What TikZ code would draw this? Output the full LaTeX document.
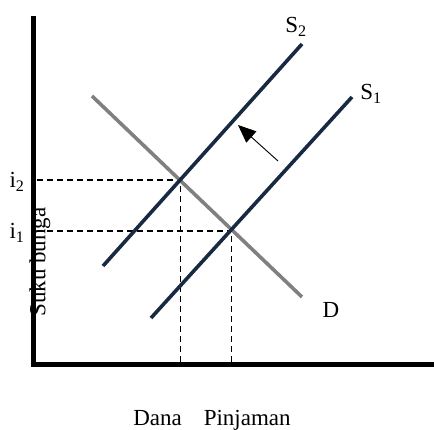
\documentclass[tikz,border=0pt]{standalone}
\usepackage{fontspec}
\setmainfont{Liberation Serif}
\usetikzlibrary{arrows.meta}
\definecolor{navy}{RGB}{24,42,66}
\definecolor{dgray}{RGB}{128,128,128}
\tikzset{
  axisline/.style={line width=5pt, black},
  supply/.style={line width=3.6pt, navy},
  demand/.style={line width=3.6pt, dgray},
  guide/.style={line width=1.6pt, dash pattern=on 6pt off 4pt, black},
  lbl/.style={font=\fontsize{23}{26}\selectfont, inner sep=0pt},
}
\begin{document}
\begin{tikzpicture}[x=1pt,y=-1pt]
\useasboundingbox (0,0) rectangle (434,430);
% axes
\coordinate (ytop) at (33.5,16);
\coordinate (origin) at (33.5,365);
\coordinate (xend) at (434,365);
\draw[axisline] (ytop) -- (origin) -- (xend);
% curves
\coordinate (s2a) at (103,266);
\coordinate (s2b) at (302,44);
\coordinate (s1a) at (151,318);
\coordinate (s1b) at (352,97);
\coordinate (da) at (92,96);
\coordinate (db) at (302,297);
\coordinate (e2) at (180.5,180);
\coordinate (e1) at (231.5,231);
\coordinate (y2) at (37,180);
\coordinate (y1) at (37,231);
\coordinate (x2) at (180.5,363);
\coordinate (x1) at (231.5,363);
\draw[guide] (y2) -- (e2) -- (x2);
\draw[guide] (y1) -- (e1) -- (x1);
\draw[demand] (da) -- (db);
\draw[supply] (s2a) -- (s2b);
\draw[supply] (s1a) -- (s1b);
% shift arrow
\coordinate (atail) at (278,161);
\coordinate (ahead) at (238,125);
\draw[line width=0.9pt, -{Triangle[length=18pt,width=15pt]}] (atail) -- (ahead);
% labels
\node[lbl] (ls2) at (296,27) {S\textsubscript{2}};
\node[lbl] (ls1) at (371,94) {S\textsubscript{1}};
\node[lbl] (ld) at (331,310) {D};
\node[lbl] (li2) at (17,182) {i\textsubscript{2}};
\node[lbl] (li1) at (17,233) {i\textsubscript{1}};
\node[lbl, rotate=90] (ly) at (40,262) {Suku bunga};
\node[lbl] (lx) at (212,420) {Dana\hspace{22pt}Pinjaman};
\end{tikzpicture}
\end{document}
